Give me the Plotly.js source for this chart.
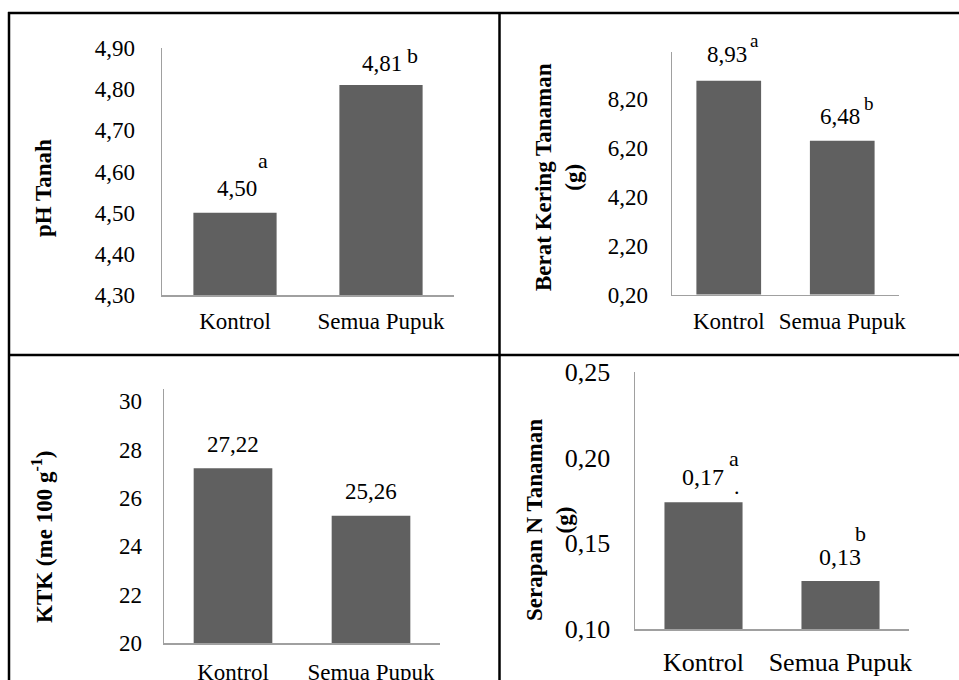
<!DOCTYPE html>
<html>
<head>
<meta charset="utf-8">
<script src="https://cdn.plot.ly/plotly-3.0.1.min.js"></script>
<style>html,body{margin:0;padding:0;background:#fff;}#chart{width:959px;height:680px;}</style>
</head>
<body>
<div id="chart"></div>
<script>
// ---- data ----
var categories = ["Kontrol", "Semua Pupuk"];
var phValues = [4.50, 4.81];
var phLetters = ["a", "b"];
var beratValues = [8.93, 6.48];
var beratLetters = ["a", "b"];
var ktkValues = [27.22, 25.26];
var serapanValues = [0.174, 0.128];
var serapanLetters = ["a", "b"];

var phTicks = [4.30, 4.40, 4.50, 4.60, 4.70, 4.80, 4.90];
var beratTicks = [0.20, 2.20, 4.20, 6.20, 8.20];
var ktkTicks = [20, 22, 24, 26, 28, 30];
var serapanTicks = [0.10, 0.15, 0.20, 0.25];

var titles = {
  ph: "pH Tanah",
  berat: "Berat Kering Tanaman<br>(g)",
  ktk: "KTK (me 100 g<sup>-1</sup>)",
  serapan: "Serapan N Tanaman<br>(g)"
};

// ---- helpers ----
var FONT = "Times New Roman, serif";
var BAR = "#606060";
var W = 959, H = 680;
function px(x) { return x / W; }
function py(y) { return 1 - y / H; }
function fmt(v, d) { return v.toFixed(d).replace(".", ","); }

function barTrace(vals, xa, ya) {
  return {type: "bar", x: categories, y: vals, xaxis: xa, yaxis: ya,
    marker: {color: BAR, line: {width: 0}}, hoverinfo: "skip", showlegend: false};
}

function axisX(domain, anchor, size, standoff) {
  return {domain: domain, anchor: anchor, showline: true, linecolor: "#a0a0a0", linewidth: 1.5,
    showgrid: false, zeroline: false, ticks: "", fixedrange: true,
    tickfont: {family: FONT, size: size, color: "#000"}, ticklabelstandoff: standoff};
}
function axisY(domain, anchor, range, tickvals, dec, size, standoff) {
  return {domain: domain, anchor: anchor, range: range, showline: true, linecolor: "#a0a0a0", linewidth: 1.5,
    showgrid: false, zeroline: false, ticks: "", fixedrange: true,
    tickvals: tickvals, ticktext: tickvals.map(function (v) { return fmt(v, dec); }),
    tickfont: {family: FONT, size: size, color: "#000"}, ticklabelstandoff: standoff};
}

var annotations = [];
function lab(xref, yref, x, y, text, xs, ys, size) {
  annotations.push({xref: xref, yref: yref, x: x, y: y, text: text, showarrow: false,
    xanchor: "center", yanchor: "middle", xshift: xs, yshift: ys,
    font: {family: FONT, size: size, color: "#000"}});
}
function vtitle(x, y, text) {
  annotations.push({xref: "paper", yref: "paper", x: px(x), y: py(y), text: text, showarrow: false,
    textangle: -90, xanchor: "center", yanchor: "middle",
    font: {family: FONT, size: 23, color: "#000"}});
}

// panel 1 : pH
lab("x", "y", categories[0], phValues[0], fmt(phValues[0], 2), 2, 24, 23);
lab("x", "y", categories[0], phValues[0], phLetters[0], 28, 52, 22);
lab("x", "y", categories[1], phValues[1], fmt(phValues[1], 2), 1, 22, 23);
lab("x", "y", categories[1], phValues[1], phLetters[1], 31, 30, 22);
// panel 2 : Berat Kering
lab("x2", "y2", categories[0], beratValues[0], fmt(beratValues[0], 2), -2, 26, 23);
lab("x2", "y2", categories[0], beratValues[0], beratLetters[0], 26, 40, 19);
lab("x2", "y2", categories[1], beratValues[1], fmt(beratValues[1], 2), -2, 24, 23);
lab("x2", "y2", categories[1], beratValues[1], beratLetters[1], 27, 37, 19);
// panel 3 : KTK
lab("x3", "y3", categories[0], ktkValues[0], fmt(ktkValues[0], 2), 0, 24, 23);
lab("x3", "y3", categories[1], ktkValues[1], fmt(ktkValues[1], 2), 0, 24, 23);
// panel 4 : Serapan N
lab("x4", "y4", categories[0], serapanValues[0], fmt(serapanValues[0], 2), -1, 25, 24);
lab("x4", "y4", categories[0], serapanValues[0], serapanLetters[0], 30, 44, 22);
lab("x4", "y4", categories[0], serapanValues[0], ".", 33, 16, 22);
lab("x4", "y4", categories[1], serapanValues[1], fmt(serapanValues[1], 2), -1, 24, 24);
lab("x4", "y4", categories[1], serapanValues[1], serapanLetters[1], 20, 48, 22);

vtitle(43, 188, "<b>" + titles.ph + "</b>");
vtitle(559, 177, "<b>" + titles.berat + "</b>");
vtitle(42, 537, "<b>" + titles.ktk + "</b>");
vtitle(549, 520, "<b>" + titles.serapan + "</b>");

// table borders
function bline(x0, y0, x1, y1) {
  return {type: "line", xref: "paper", yref: "paper", x0: px(x0), y0: py(y0), x1: px(x1), y1: py(y1),
    line: {color: "#000", width: 2.5}};
}
var shapes = [
  bline(9, 12, 9, 680),
  bline(8, 13, 959, 13),
  bline(499.5, 12, 499.5, 680),
  bline(8, 355, 959, 355)
];

var data = [
  barTrace(phValues, "x", "y"),
  barTrace(beratValues, "x2", "y2"),
  barTrace(ktkValues, "x3", "y3"),
  barTrace(serapanValues, "x4", "y4")
];

var layout = {
  width: W, height: H,
  margin: {l: 0, r: 0, t: 0, b: 0},
  paper_bgcolor: "#fff", plot_bgcolor: "#fff",
  bargap: 0.43, showlegend: false,
  font: {family: FONT, color: "#000"},
  xaxis: axisX([px(162), px(454)], "y", 23, 5),
  yaxis: axisY([py(295), py(48)], "x", [4.30, 4.90], phTicks, 2, 23, 21),
  xaxis2: axisX([px(672), px(899)], "y2", 23, 5),
  yaxis2: axisY([py(294.5), py(52)], "x2", [0.2, 10.1], beratTicks, 2, 23, 18),
  xaxis3: axisX([px(164), px(440)], "y3", 23, 8),
  yaxis3: axisY([py(643), py(389)], "x3", [20, 30.5], ktkTicks, 0, 23, 16),
  xaxis4: axisX([px(635), px(909)], "y4", 26, 9),
  yaxis4: axisY([py(629), py(372)], "x4", [0.10, 0.25], serapanTicks, 2, 26, 18),
  annotations: annotations,
  shapes: shapes
};

Plotly.newPlot("chart", data, layout, {displayModeBar: false, staticPlot: true});
</script>
</body>
</html>
